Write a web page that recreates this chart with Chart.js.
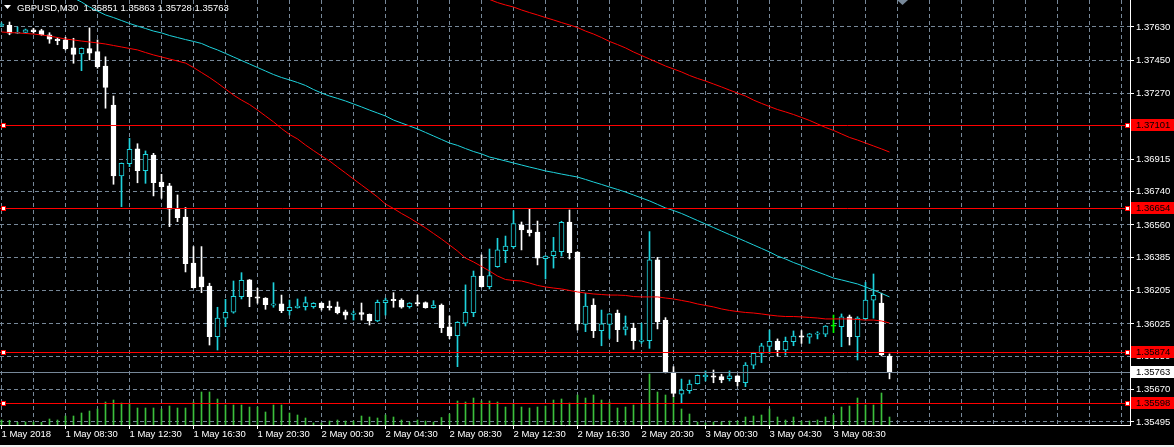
<!DOCTYPE html>
<html>
<head>
<meta charset="utf-8">
<title>GBPUSD,M30</title>
<script src="https://cdn.jsdelivr.net/npm/chart.js"></script>
<style>
html, body { margin: 0; padding: 0; background: #f0f0f0; }
#wrap { width: 1174px; height: 445px; background: #000; }
canvas { display: block; }
</style>
</head>
<body>
<div id="wrap"><canvas id="myChart" width="1174" height="445"></canvas></div>
<script>
const symbol = "GBPUSD,M30";

// one label every 8 bars (4 hours), first bar is 1 May 04:30
const timeLabels = ["1 May 2018", "1 May 08:30", "1 May 12:30", "1 May 16:30", "1 May 20:30",
    "2 May 00:30", "2 May 04:30", "2 May 08:30", "2 May 12:30", "2 May 16:30", "2 May 20:30",
    "3 May 00:30", "3 May 04:30", "3 May 08:30"];

const priceTicks = [1.37630, 1.37450, 1.37270, 1.36915, 1.36740, 1.36560, 1.36385,
    1.36205, 1.36025, 1.35850, 1.35670, 1.35495];

const opens = [
    1.37638,1.37639,1.37596,1.37601,1.37614,1.37610,1.37588,1.37565,1.37560,1.37518,
    1.37484,1.37513,1.37497,1.37419,1.37208,1.36825,1.36891,1.36971,1.36853,1.36938,
    1.36792,1.36771,1.36648,1.36603,1.36354,1.36279,1.36230,1.35956,1.36056,1.36088,
    1.36172,1.36263,1.36172,1.36165,1.36126,1.36133,1.36097,1.36113,1.36118,1.36118,
    1.36138,1.36122,1.36117,1.36090,1.36077,1.36086,1.36077,1.36041,1.36140,1.36158,
    1.36154,1.36118,1.36140,1.36140,1.36113,1.36127,1.36010,1.35961,1.36029,1.36086,
    1.36284,1.36226,1.36334,1.36421,1.36443,1.36560,1.36533,1.36522,1.36378,1.36394,
    1.36416,1.36576,1.36414,1.36023,1.36127,1.35989,1.36023,1.36084,1.35996,1.36003,
    1.35931,1.35934,1.36371,1.36046,1.35765,1.35645,1.35664,1.35702,1.35740,1.35744,
    1.35740,1.35729,1.35744,1.35707,1.35802,1.35866,1.35904,1.35931,1.35884,1.35929,
    1.35961,1.35953,1.35969,1.35969,1.36013,1.36010,1.36064,1.35956,1.36053,1.36153,
    1.36138,1.35851];
const highs = [
    1.37653,1.37657,1.37630,1.37619,1.37623,1.37618,1.37599,1.37572,1.37574,1.37569,
    1.37517,1.37625,1.37560,1.37469,1.37257,1.36895,1.37028,1.36999,1.36960,1.36947,
    1.36834,1.36785,1.36722,1.36654,1.36443,1.36443,1.36245,1.36115,1.36158,1.36257,
    1.36302,1.36265,1.36218,1.36167,1.36248,1.36181,1.36154,1.36160,1.36171,1.36140,
    1.36140,1.36149,1.36144,1.36100,1.36095,1.36138,1.36079,1.36154,1.36164,1.36194,
    1.36161,1.36140,1.36181,1.36144,1.36151,1.36133,1.36068,1.36037,1.36236,1.36311,
    1.36398,1.36430,1.36488,1.36500,1.36637,1.36576,1.36650,1.36581,1.36394,1.36493,
    1.36580,1.36641,1.36416,1.36191,1.36161,1.36100,1.36081,1.36100,1.36068,1.36029,
    1.36029,1.36524,1.36385,1.36059,1.35794,1.35727,1.35722,1.35749,1.35771,1.35776,
    1.35753,1.35771,1.35746,1.35816,1.35872,1.35920,1.35992,1.35944,1.35954,1.35987,
    1.35989,1.35974,1.35983,1.36016,1.36073,1.36079,1.36073,1.36064,1.36250,1.36295,
    1.36191,1.35863];
const lows = [
    1.37632,1.37588,1.37594,1.37598,1.37596,1.37585,1.37542,1.37534,1.37506,1.37434,
    1.37394,1.37452,1.37407,1.37191,1.36780,1.36659,1.36875,1.36788,1.36785,1.36717,
    1.36704,1.36551,1.36578,1.36306,1.36219,1.36194,1.35911,1.35884,1.36010,1.36083,
    1.36160,1.36118,1.36137,1.36104,1.36115,1.36086,1.36073,1.36110,1.36100,1.36110,
    1.36100,1.36100,1.36079,1.36050,1.36046,1.36046,1.36019,1.36037,1.36073,1.36115,
    1.36110,1.36110,1.36122,1.36110,1.36110,1.35978,1.35945,1.35794,1.36014,1.36064,
    1.36224,1.36214,1.36331,1.36356,1.36434,1.36425,1.36500,1.36344,1.36268,1.36327,
    1.36392,1.36376,1.35992,1.35983,1.35951,1.35907,1.35947,1.35929,1.35965,1.35888,
    1.35920,1.35893,1.35998,1.35760,1.35632,1.35598,1.35650,1.35700,1.35717,1.35707,
    1.35707,1.35717,1.35690,1.35686,1.35783,1.35816,1.35866,1.35852,1.35857,1.35907,
    1.35920,1.35920,1.35944,1.35956,1.35978,1.35902,1.35911,1.35830,1.36046,1.36056,
    1.35852,1.35728];
const closes = [
    1.37644,1.37596,1.37599,1.37614,1.37605,1.37588,1.37564,1.37556,1.37513,1.37482,
    1.37515,1.37488,1.37415,1.37304,1.36825,1.36893,1.36969,1.36853,1.36942,1.36788,
    1.36767,1.36645,1.36599,1.36351,1.36221,1.36225,1.35956,1.36056,1.36088,1.36174,
    1.36261,1.36172,1.36164,1.36129,1.36133,1.36097,1.36115,1.36122,1.36140,1.36137,
    1.36111,1.36113,1.36086,1.36073,1.36084,1.36077,1.36041,1.36142,1.36154,1.36151,
    1.36115,1.36138,1.36133,1.36113,1.36127,1.36005,1.35960,1.36034,1.36088,1.36283,
    1.36226,1.36286,1.36425,1.36446,1.36567,1.36533,1.36518,1.36381,1.36392,1.36419,
    1.36574,1.36410,1.36025,1.36122,1.35989,1.36025,1.36079,1.35994,1.36009,1.35934,
    1.35938,1.36371,1.36037,1.35762,1.35650,1.35668,1.35700,1.35747,1.35747,1.35737,
    1.35722,1.35744,1.35713,1.35802,1.35866,1.35906,1.35931,1.35884,1.35931,1.35960,
    1.35953,1.35971,1.35976,1.36014,1.36013,1.36063,1.35956,1.36057,1.36154,1.36180,
    1.35859,1.35763];
const volumes = [
    500,470,270,300,300,270,600,500,900,900,
    1200,1400,1600,2300,2500,2200,2070,1700,1700,1700,
    1600,1900,1700,1700,2300,3300,3300,2600,2000,2000,
    2000,1800,1800,1300,2000,2000,1200,1000,700,200,
    200,400,500,400,400,900,800,700,1000,800,
    500,300,500,400,300,750,1100,2400,2300,2700,
    2400,2400,2300,1800,2100,1800,1700,1800,1900,2500,
    2600,2200,3000,2700,3000,2500,2300,1700,1800,2000,
    2100,5100,3300,3000,2800,1600,1100,300,200,300,
    300,400,400,800,900,1000,1600,800,500,800,
    400,400,500,800,1000,1800,1900,2700,2000,2000,
    3200,800];

// red moving average, one value per bar
const maFast = [
    1.37603,1.37600,1.37598,1.37595,1.37592,1.37587,1.37581,1.37573,1.37565,1.37560,
    1.37554,1.37549,1.37544,1.37538,1.37530,1.37522,1.37514,1.37506,1.37492,1.37479,
    1.37468,1.37457,1.37446,1.37435,1.37411,1.37384,1.37357,1.37327,1.37295,1.37262,
    1.37235,1.37211,1.37181,1.37149,1.37117,1.37081,1.37049,1.37025,1.36992,1.36962,
    1.36933,1.36906,1.36873,1.36841,1.36808,1.36776,1.36744,1.36711,1.36673,1.36649,
    1.36622,1.36598,1.36571,1.36544,1.36514,1.36484,1.36452,1.36419,1.36381,1.36360,
    1.36336,1.36311,1.36284,1.36265,1.36260,1.36257,1.36246,1.36233,1.36225,1.36219,
    1.36214,1.36206,1.36198,1.36192,1.36187,1.36184,1.36181,1.36181,1.36179,1.36173,
    1.36171,1.36171,1.36171,1.36165,1.36160,1.36152,1.36144,1.36133,1.36125,1.36117,
    1.36106,1.36098,1.36092,1.36087,1.36084,1.36079,1.36073,1.36068,1.36065,1.36065,
    1.36063,1.36060,1.36057,1.36052,1.36052,1.36052,1.36052,1.36049,1.36046,1.36046,
    1.36041,1.36030];

// cyan moving average, starts at bar 8 (earlier values are above the window)
const maSlowStart = 8;
const maSlow = [
    1.37808,1.37787,1.37765,1.37738,1.37716,1.37695,1.37681,1.37665,1.37649,1.37635,
    1.37622,1.37608,1.37598,1.37584,1.37573,1.37562,1.37552,1.37541,1.37522,1.37506,
    1.37487,1.37468,1.37449,1.37430,1.37411,1.37392,1.37373,1.37357,1.37344,1.37330,
    1.37314,1.37292,1.37273,1.37257,1.37244,1.37230,1.37214,1.37198,1.37181,1.37165,
    1.37149,1.37127,1.37111,1.37095,1.37079,1.37060,1.37041,1.37022,1.37003,1.36990,
    1.36973,1.36957,1.36944,1.36927,1.36917,1.36906,1.36895,1.36884,1.36873,1.36863,
    1.36852,1.36844,1.36835,1.36827,1.36819,1.36806,1.36792,1.36779,1.36765,1.36752,
    1.36738,1.36722,1.36706,1.36690,1.36671,1.36652,1.36638,1.36622,1.36603,1.36584,
    1.36565,1.36546,1.36527,1.36508,1.36490,1.36471,1.36452,1.36433,1.36414,1.36392,
    1.36376,1.36357,1.36341,1.36322,1.36306,1.36290,1.36273,1.36263,1.36252,1.36241,
    1.36225,1.36208,1.36190,1.36171];

// long red moving average, enters the window at bar 61
const maLongStart = 61;
const maLong = [
    1.37779,1.37762,1.37749,1.37738,1.37722,1.37708,1.37695,1.37681,1.37668,1.37654,
    1.37641,1.37627,1.37608,1.37592,1.37573,1.37552,1.37535,1.37517,1.37495,1.37476,
    1.37457,1.37438,1.37419,1.37403,1.37387,1.37368,1.37352,1.37338,1.37322,1.37306,
    1.37289,1.37273,1.37257,1.37235,1.37217,1.37200,1.37184,1.37171,1.37157,1.37141,
    1.37125,1.37106,1.37087,1.37071,1.37052,1.37033,1.37019,1.37003,1.36987,1.36971,
    1.36954];

const levels = [1.37101, 1.36654, 1.35874, 1.35598];
const bidPrice = 1.35763;

const bullColor = "#1ed2dc";
const bearColor = "#ffffff";
const dojiColor = "#00ff00";
const gridColor = "#778899";
const volColor = "#3cbf3c";
const axisFont = { family: "Liberation Sans", size: 9.5 };

function candleColor(i)
{
    if (closes[i] > opens[i]) return bullColor;
    if (closes[i] < opens[i]) return bearColor;
    return dojiColor;
}
function bodyFill(i)
{
    return closes[i] > opens[i] ? "#000000" : candleColor(i);
}
function toPoints(arr, start)
{
    return arr.map((v, k) => ({ x: k + start, y: v }));
}
function noPadding(s)
{
    s.paddingTop = 0; s.paddingBottom = 0; s.paddingLeft = 0; s.paddingRight = 0;
}

const idx = opens.map((o, i) => i);

const overlay = {
    id: "overlay",
    afterDatasetsDraw(chart) {
        const c = chart.ctx;
        const area = chart.chartArea;
        const y = chart.scales.y;
        c.save();
        c.lineWidth = 1;
        let yb = Math.round(y.getPixelForValue(bidPrice)) + 0.5;
        c.strokeStyle = gridColor;
        c.beginPath(); c.moveTo(area.left, yb); c.lineTo(area.right, yb); c.stroke();
        c.strokeStyle = "#ff0000";
        levels.forEach(l => {
            let yy = Math.round(y.getPixelForValue(l)) + 0.5;
            c.beginPath(); c.moveTo(area.left, yy); c.lineTo(area.right, yy); c.stroke();
        });
        c.restore();
    },
    afterDraw(chart) {
        const c = chart.ctx;
        const area = chart.chartArea;
        const y = chart.scales.y;
        const last = opens.length - 1;
        c.save();
        c.font = axisFont.size + "px '" + axisFont.family + "'";
        c.textBaseline = "middle";
        c.textAlign = "left";

        // price boxes on the right scale
        let yb = Math.round(y.getPixelForValue(bidPrice));
        c.fillStyle = "#ffffff";
        c.fillRect(area.right + 1, yb - 6, 44, 12);
        c.fillStyle = "#000000";
        c.fillText(bidPrice.toFixed(5), area.right + 6, yb + 0.5);
        levels.forEach(l => {
            let yy = Math.round(y.getPixelForValue(l));
            c.fillStyle = "#ff0000";
            c.fillRect(area.right + 1, yy - 6, 44, 12);
            c.fillStyle = "#000000";
            c.fillText(l.toFixed(5), area.right + 6, yy + 0.5);
            // anchor squares at both ends of the line
            [area.left + 1, area.right - 5].forEach(px => {
                c.fillStyle = "#ffffff";
                c.fillRect(px, yy - 2, 5, 5);
                c.strokeStyle = "#ff0000";
                c.lineWidth = 1;
                c.strokeRect(px + 0.5, yy - 1.5, 4, 4);
            });
        });

        // header
        c.fillStyle = "#ffffff";
        c.beginPath(); c.moveTo(4, 5); c.lineTo(11, 5); c.lineTo(7.5, 9); c.closePath(); c.fill();
        let ohlc = [opens[last], highs[last], lows[last], closes[last]].map(v => v.toFixed(5)).join(" ");
        c.fillText(symbol + "  " + ohlc, 17, 8);

        // chart shift marker
        c.fillStyle = gridColor;
        c.beginPath(); c.moveTo(897, 0); c.lineTo(908, 0); c.lineTo(902.5, 5); c.closePath(); c.fill();
        c.restore();
    }
};

let canvas = document.getElementById("myChart").getContext("2d");
let myChart = new Chart(canvas, {
    type: "bar",
    data: {
        datasets: [
            {
                type: "line", label: "MA slow", data: toPoints(maSlow, maSlowStart),
                borderColor: bullColor, borderWidth: 1, pointRadius: 0, order: 1
            },
            {
                type: "line", label: "MA fast", data: toPoints(maFast, 0),
                borderColor: "#ff0000", borderWidth: 1, pointRadius: 0, order: 1
            },
            {
                type: "line", label: "MA long", data: toPoints(maLong, maLongStart),
                borderColor: "#ff0000", borderWidth: 1, pointRadius: 0, order: 1
            },
            {
                label: "Bodies", data: idx.map(i => ({ x: i, y: [opens[i], closes[i]] })),
                backgroundColor: idx.map(bodyFill), borderColor: idx.map(candleColor),
                borderWidth: 1, borderSkipped: false, barThickness: 5, minBarLength: 1,
                grouped: false, order: 2
            },
            {
                label: "Wicks", data: idx.map(i => ({ x: i, y: [lows[i], highs[i]] })),
                backgroundColor: idx.map(candleColor), barThickness: 1, minBarLength: 1,
                grouped: false, order: 3
            },
            {
                label: "Volumes", yAxisID: "yv", data: idx.map(i => ({ x: i, y: volumes[i] })),
                backgroundColor: volColor, barThickness: 1, grouped: false, order: 4
            }
        ]
    },
    options: {
        responsive: false,
        animation: false,
        events: [],
        layout: { padding: 0 },
        plugins: { legend: { display: false }, tooltip: { enabled: false } },
        scales: {
            x: {
                type: "linear", min: -0.1875, max: 141.0625, offset: false,
                afterBuildTicks: s => {
                    s.ticks = [];
                    for (let v = 0; v <= 140; v += 4) s.ticks.push({ value: v });
                },
                afterFit: s => { s.height = 20; noPadding(s); },
                grid: {
                    offset: false, color: gridColor, lineWidth: 1, tickLength: 4,
                    tickColor: ctx => (ctx.tick && ctx.tick.value % 8 === 0 && ctx.tick.value / 8 < timeLabels.length) ? "#ffffff" : "rgba(0,0,0,0)"
                },
                border: { color: "#ffffff", dash: [4, 3] },
                ticks: {
                    color: "#ffffff", font: axisFont, autoSkip: false, maxRotation: 0, minRotation: 0,
                    align: "start", padding: 0,
                    callback: v => (v % 8 === 0 && timeLabels[v / 8]) ? timeLabels[v / 8] : ""
                }
            },
            y: {
                position: "right", min: 1.354787, max: 1.377759,
                afterBuildTicks: s => { s.ticks = priceTicks.map(v => ({ value: v })); },
                afterFit: s => { s.width = 44; noPadding(s); },
                grid: { color: gridColor, lineWidth: 1, tickLength: 4, tickColor: "#ffffff" },
                border: { color: "#ffffff", dash: [4, 3] },
                ticks: { color: "#ffffff", font: axisFont, padding: 2, callback: v => Number(v).toFixed(5) }
            },
            yv: { display: false, min: 0, max: 42500 }
        }
    },
    plugins: [overlay]
});
</script>
</body>
</html>
